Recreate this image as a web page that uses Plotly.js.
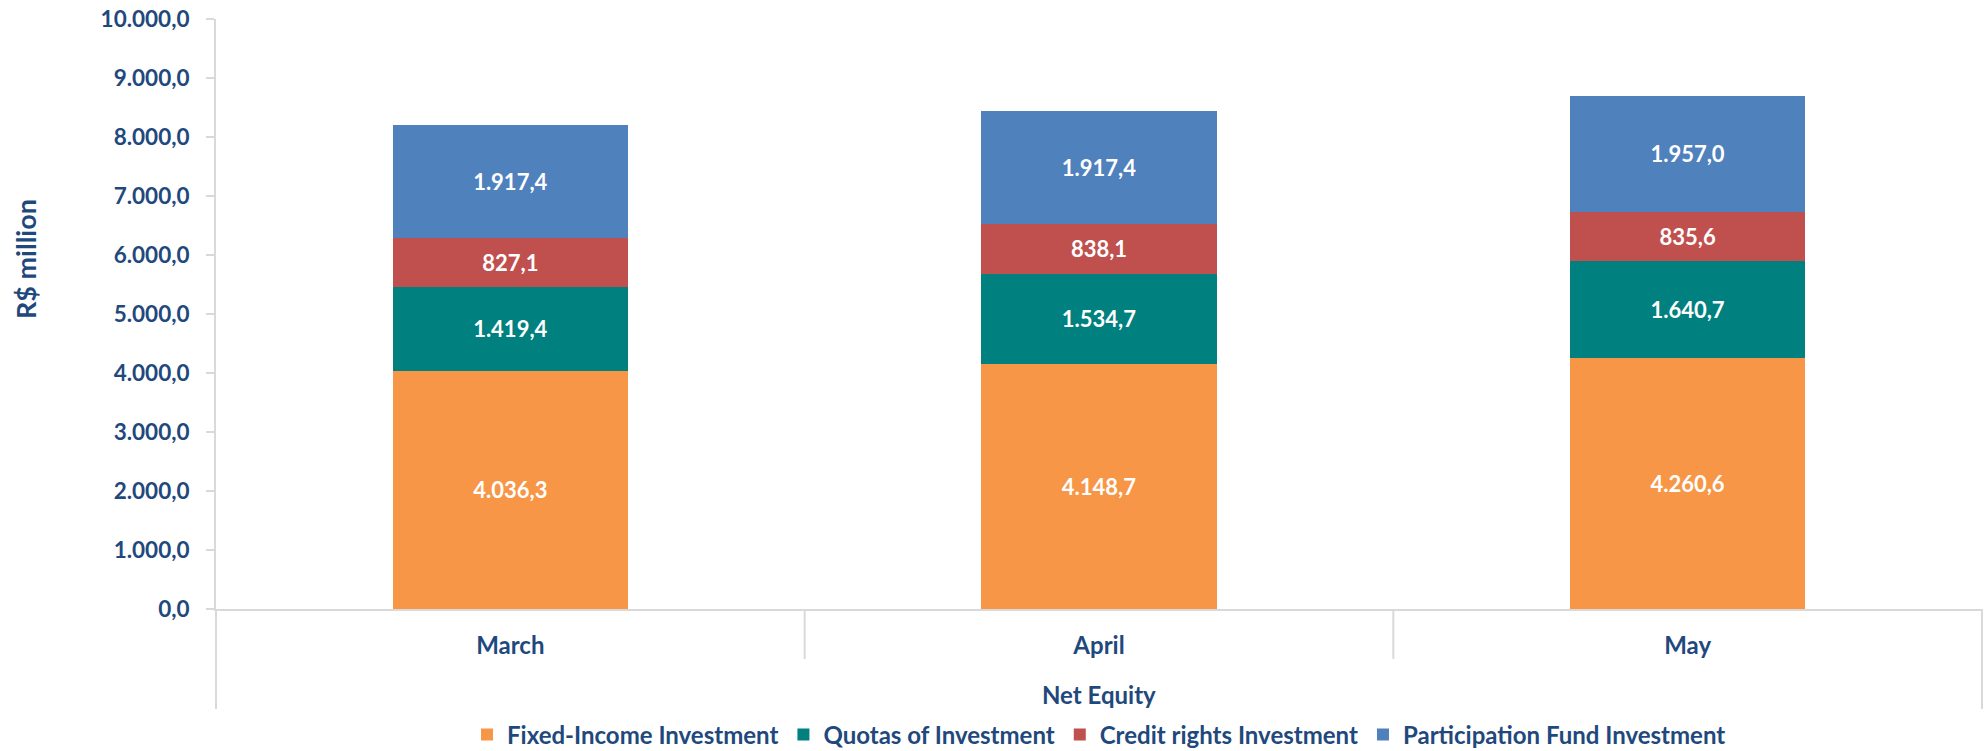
<!DOCTYPE html>
<html>
<head>
<meta charset="utf-8">
<script src="https://cdn.plot.ly/plotly-3.0.1.min.js"></script>
<style>html,body{margin:0;padding:0;background:#fff;}#chart{width:1986px;height:751px;}</style>
</head>
<body>
<div id="chart"></div>
<script>
const months = ["March", "April", "May"];
const seriesNames = ["Fixed-Income Investment", "Quotas of Investment", "Credit rights Investment", "Participation Fund Investment"];
const fixedIncome = [4036.3, 4148.7, 4260.6];
const quotas = [1419.4, 1534.7, 1640.7];
const creditRights = [827.1, 838.1, 835.6];
const participation = [1917.4, 1917.4, 1957.0];
const colors = ["#F79646", "#00807F", "#C0504D", "#4F81BD"];
const xTitle = "Net Equity";
const yTitle = "R$ million";

const FONT = "Lato, 'Open Sans', sans-serif";
const NAVY = "#1F497D";

function fmt(v) {
  const parts = v.toFixed(1).split(".");
  const intPart = parts[0].replace(/\B(?=(\d{3})+(?!\d))/g, ".");
  return intPart + "," + parts[1];
}

const allSeries = [fixedIncome, quotas, creditRights, participation];
const traces = allSeries.map((vals, i) => ({
  type: "bar",
  name: seriesNames[i],
  x: months,
  y: vals,
  text: vals.map(fmt),
  textposition: "inside",
  insidetextanchor: "middle",
  textangle: 0,
  constraintext: "none",
  textfont: {family: FONT, size: 22, color: "#FFFFFF", weight: "bold"},
  marker: {color: colors[i], line: {width: 0}},
  hoverinfo: "skip"
}));

const lineColor = "#D9D9D9";
const layout = {
  width: 1986,
  height: 751,
  barmode: "stack",
  bargap: 0.6,
  separators: ",.",
  paper_bgcolor: "#FFFFFF",
  plot_bgcolor: "#FFFFFF",
  margin: {l: 216, r: 4, t: 19, b: 142, autoexpand: false},
  font: {family: FONT, size: 24, color: NAVY, weight: "bold"},
  showlegend: true,
  legend: {
    orientation: "h",
    x: 0.5, xanchor: "center",
    y: -0.2136, yanchor: "middle",
    font: {family: FONT, size: 24, color: NAVY, weight: "bold"},
    traceorder: "normal",
    itemclick: false
  },
  xaxis: {
    type: "category",
    showline: true,
    linecolor: lineColor,
    linewidth: 2,
    ticks: "",
    showgrid: false,
    zeroline: false,
    ticklabelstandoff: 14,
    tickfont: {family: FONT, size: 24, color: NAVY, weight: "bold"},
    fixedrange: true
  },
  yaxis: {
    range: [0, 10000],
    dtick: 1000,
    tick0: 0,
    tickformat: ",.1f",
    showline: true,
    linecolor: lineColor,
    linewidth: 2,
    ticks: "outside",
    ticklen: 8,
    tickwidth: 2,
    tickcolor: lineColor,
    showgrid: false,
    zeroline: false,
    ticklabelstandoff: 12,
    tickfont: {family: FONT, size: 22.5, color: NAVY, weight: "bold"},
    fixedrange: true
  },
  shapes: [
    {type: "line", xref: "paper", yref: "paper", x0: 0, x1: 0, y0: 0, y1: -0.1695, line: {color: lineColor, width: 2}},
    {type: "line", xref: "paper", yref: "paper", x0: 1, x1: 1, y0: 0, y1: -0.1695, line: {color: lineColor, width: 2}},
    {type: "line", xref: "x", yref: "paper", x0: 0.5, x1: 0.5, y0: 0, y1: -0.0847, line: {color: lineColor, width: 2}},
    {type: "line", xref: "x", yref: "paper", x0: 1.5, x1: 1.5, y0: 0, y1: -0.0847, line: {color: lineColor, width: 2}}
  ],
  annotations: [
    {text: xTitle, xref: "paper", yref: "paper", x: 0.5, y: (609 - 694) / 590, xanchor: "center", yanchor: "middle", showarrow: false,
     font: {family: FONT, size: 24, color: NAVY, weight: "bold"}},
    {text: yTitle, xref: "paper", yref: "paper", x: (25 - 216) / 1767, y: (609 - 259) / 590, xanchor: "center", yanchor: "middle", textangle: -90, showarrow: false,
     font: {family: FONT, size: 27, color: NAVY, weight: "bold"}}
  ]
};

Plotly.newPlot("chart", traces, layout, {displayModeBar: false, staticPlot: true});
</script>
</body>
</html>
